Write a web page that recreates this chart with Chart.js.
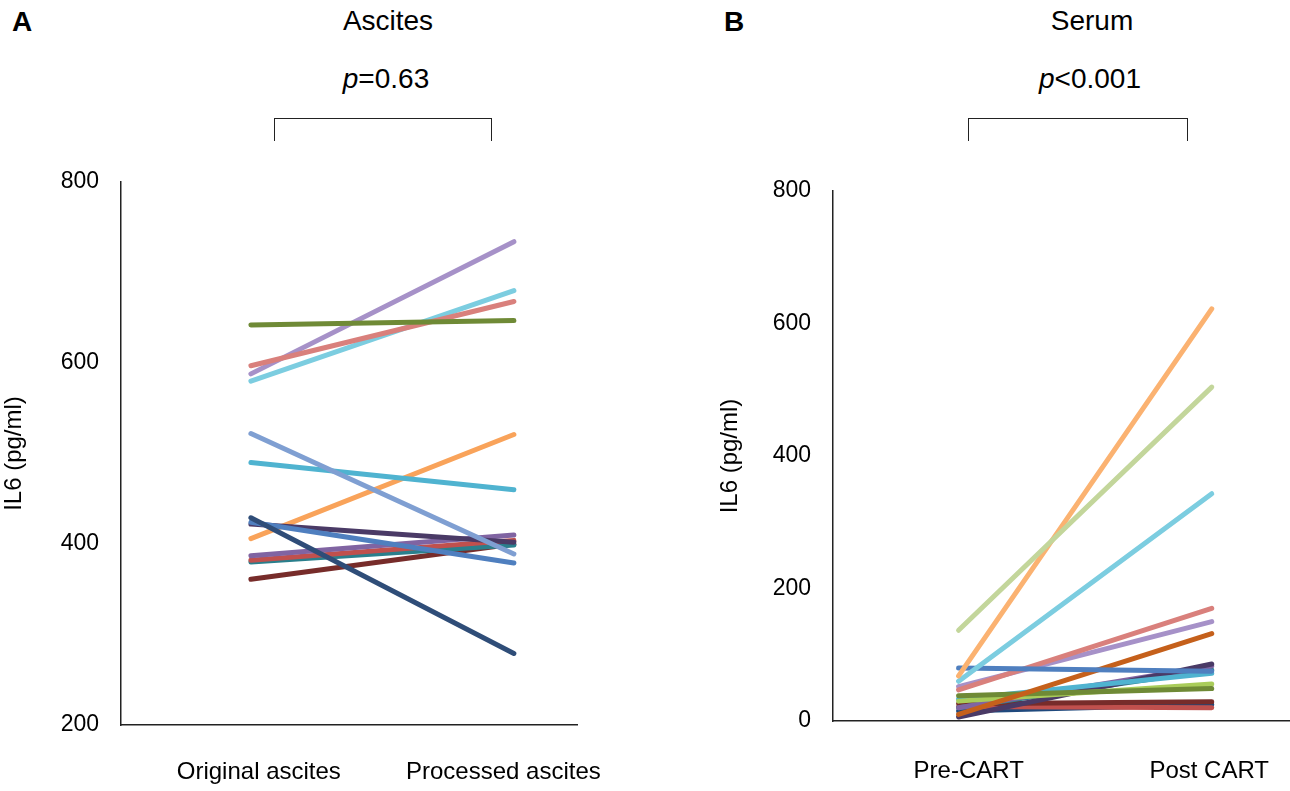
<!DOCTYPE html>
<html>
<head>
<meta charset="UTF-8">
<title>IL6 ascites / serum</title>
<script src="https://cdn.jsdelivr.net/npm/chart.js@4/dist/chart.umd.min.js"></script>
<style>
  body {
    margin: 0;
    width: 1290px;
    height: 791px;
    background: #fff;
    position: relative;
    overflow: hidden;
    font-family: "Liberation Sans", Arial, sans-serif;
    color: #000;
  }
  .box {
    position: absolute;
    top: 0;
    height: 791px;
  }
  .panel-letter {
    position: absolute;
    top: 6px;
    font-size: 28px;
    font-weight: bold;
  }
  .ttl {
    position: absolute;
    font-size: 28px;
    transform: translateX(-50%);
    white-space: nowrap;
  }
  .bracket {
    position: absolute;
    top: 118px;
    height: 22px;
    border: 1.5px solid #222;
    border-bottom: none;
  }
</style>
</head>
<body>
<div class="panel-letter" style="left:12px;">A</div>
<div class="panel-letter" style="left:724px;">B</div>

<div class="ttl" style="left:388px; top:5px;">Ascites</div>
<div class="ttl" style="left:386px; top:63px;"><i>p</i>=0.63</div>
<div class="bracket" style="left:274px; width:216px;"></div>

<div class="ttl" style="left:1092px; top:5px;">Serum</div>
<div class="ttl" style="left:1090px; top:63px;"><i>p</i>&lt;0.001</div>
<div class="bracket" style="left:968px; width:218px;"></div>

<div class="box" style="left:0px; width:645px;"><canvas id="chartA"></canvas></div>
<div class="box" style="left:716px; width:576px;"><canvas id="chartB"></canvas></div>

<script>
// ---- data (IL6, pg/ml) ----
const ascitesLabels = ['Original ascites', 'Processed ascites'];
const ascitesOriginal  = [642, 597, 588, 580, 522, 490, 429, 424, 422, 406, 387, 382, 380, 361];
const ascitesProcessed = [647, 668, 734, 680, 389, 460, 279, 379, 402, 521, 410, 404, 399, 400];
const ascitesColors = ['#6f8a36', '#d9807c', '#a691c8', '#7ccde0', '#7f9fd2', '#4fb3d0',
  '#2f4d78', '#4f7fbf', '#4a3a66', '#f9a35a', '#8064a2', '#c0504d', '#2a7f8c', '#772c2a'];

const serumLabels = ['Pre-CART', 'Post CART'];
const serumPre  = [137, 68, 60, 80, 47, 52, 10, 38, 30, 33, 6, 20, 20, 26, 22, 15];
const serumPost = [504, 622, 343, 75, 170, 150, 132, 49, 56, 72, 86, 83, 77, 29, 20, 25];
const serumColors = ['#c3d69b', '#fbb271', '#7ccde0', '#4f7fbf', '#d9807c', '#a691c8',
  '#c5601b', '#6f8a36', '#a9cc5a', '#4fb3d0', '#4a3a66', '#8064a2', '#2a7f8c',
  '#772c2a', '#c0504d', '#1f497d'];

const yTicksA = [200, 400, 600, 800];
const yTicksB = [0, 200, 400, 600, 800];

Chart.defaults.font.family = '"Liberation Sans", Arial, sans-serif';
Chart.defaults.color = '#000';

function makeDatasets(before, after, colors) {
  return before.map((v, i) => ({
    data: [{x: 1, y: v}, {x: 2, y: after[i]}],
    borderColor: colors[i],
    borderWidth: 5,
    borderCapStyle: 'round',
    pointRadius: 0,
    fill: false,
  }));
}

function makeChart(id, labels, before, after, colors, yTicks, opt) {
  const ctx = document.getElementById(id);
  return new Chart(ctx, {
    type: 'line',
    data: { datasets: makeDatasets(before, after, colors) },
    options: {
      responsive: true,
      maintainAspectRatio: false,
      animation: false,
      layout: { padding: { top: opt.top, right: opt.right, left: 0, bottom: 0 } },
      plugins: { legend: { display: false }, tooltip: { enabled: false } },
      scales: {
        x: {
          type: 'linear',
          min: opt.xMin,
          max: opt.xMax,
          grid: { display: false, drawTicks: false },
          border: { display: true, color: '#222', width: 1.5 },
          // the category labels sit a little off the line ends, like in Excel
          afterBuildTicks: (s) => { s.ticks = opt.labelAt.map(v => ({value: v})); },
          afterFit: (s) => {
            s.height = opt.xHeight;
            s.paddingLeft = 0;
            s.paddingRight = 0;
          },
          ticks: {
            padding: opt.xPad,
            maxRotation: 0,
            autoSkip: false,
            font: { size: 24 },
            callback: (v, i) => labels[i],
          },
        },
        y: {
          min: yTicks[0],
          max: yTicks[yTicks.length - 1],
          grid: { display: false, drawTicks: false },
          border: { display: true, color: '#222', width: 1.5 },
          afterBuildTicks: (s) => { s.ticks = yTicks.map(v => ({value: v})); },
          afterFit: (s) => { s.width = opt.yWidth; },
          ticks: { padding: 22, font: { size: 23 } },
          title: {
            display: true,
            text: 'IL6 (pg/ml)',
            font: { size: 24 },
            padding: { top: 0, bottom: 0 },
          },
        },
      },
    },
  });
}

makeChart('chartA', ascitesLabels, ascitesOriginal, ascitesProcessed, ascitesColors, yTicksA,
  { top: 182, right: 68, xMin: 0.506, xMax: 2.24, xHeight: 66, xPad: 33, yWidth: 121,
    labelAt: [1.03, 1.96] });
makeChart('chartB', serumLabels, serumPre, serumPost, serumColors, yTicksB,
  { top: 191, right: 0, xMin: 0.504, xMax: 2.317, xHeight: 70, xPad: 36, yWidth: 117,
    labelAt: [1.04, 1.99] });
</script>
</body>
</html>
